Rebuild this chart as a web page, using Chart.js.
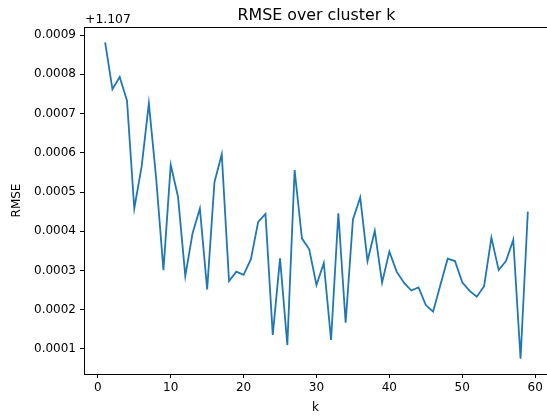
<!DOCTYPE html>
<html>
<head>
<meta charset="utf-8">
<script src="https://cdn.jsdelivr.net/npm/chart.js@4"></script>
<style>
  html, body { margin: 0; padding: 0; background: #fff; }
  #wrap { width: 547px; height: 417px; }
</style>
</head>
<body>
<div id="wrap"><canvas id="rmseChart" width="547" height="417"></canvas></div>
<script>
// values shown relative to the axis offset (+1.107)
const yOffsetLabel = '+1.107';
const kValues = [1, 2, 3, 4, 5, 6, 7, 8, 9, 10, 11, 12, 13, 14, 15, 16, 17, 18, 19, 20,
    21, 22, 23, 24, 25, 26, 27, 28, 29, 30, 31, 32, 33, 34, 35, 36, 37, 38, 39, 40,
    41, 42, 43, 44, 45, 46, 47, 48, 49, 50, 51, 52, 53, 54, 55, 56, 57, 58, 59];
const rmseDelta = [
    0.000881, 0.000762, 0.000793, 0.000733, 0.000458, 0.000564, 0.000726, 0.000535, 0.000301, 0.000569,
    0.000488, 0.000286, 0.000395, 0.000458, 0.000252, 0.000525, 0.000596, 0.000273, 0.000297, 0.000289,
    0.000329, 0.000424, 0.000444, 0.000136, 0.000331, 0.000110, 0.000556, 0.000382, 0.000354, 0.000263,
    0.000319, 0.000123, 0.000446, 0.000167, 0.000430, 0.000486, 0.000324, 0.000401, 0.000269, 0.000348,
    0.000297, 0.000269, 0.000249, 0.000257, 0.000212, 0.000195, 0.000263, 0.000330, 0.000324, 0.000270,
    0.000248, 0.000233, 0.000260, 0.000384, 0.000301, 0.000324, 0.000378, 0.000075, 0.000450
];
const xTicks = [0, 10, 20, 30, 40, 50, 60];
const yTicks = [0.0001, 0.0002, 0.0003, 0.0004, 0.0005, 0.0006, 0.0007, 0.0008, 0.0009];

const FONT = 'DejaVu Sans';
const xMin = -1.9, xMaxFull = 61.9;   // full axes range (right edge is cut off)

const ctx = document.getElementById('rmseChart');

const framePlugin = {
    id: 'frame',
    afterDraw(chart) {
        const c = chart.ctx;
        const a = chart.chartArea;
        const xs = chart.scales.x;
        c.save();
        // top spine
        c.strokeStyle = '#000';
        c.lineWidth = 1;
        c.beginPath();
        c.moveTo(a.left, a.top + 0.5);
        c.lineTo(chart.width, a.top + 0.5);
        c.stroke();
        // title
        c.fillStyle = '#000';
        c.font = '15.8px "' + FONT + '"';
        c.textAlign = 'center';
        c.textBaseline = 'alphabetic';
        c.fillText('RMSE over cluster k', xs.getPixelForValue((xMin + xMaxFull) / 2), 20);
        // offset text
        c.font = '12.4px "' + FONT + '"';
        c.textAlign = 'left';
        c.fillText(yOffsetLabel, a.left + 1, 22.5);
        c.restore();
    }
};

new Chart(ctx, {
    type: 'line',
    data: {
        datasets: [{
            label: 'RMSE',
            data: kValues.map((k, i) => ({x: k, y: rmseDelta[i]})),
            borderColor: '#1f77b4',
            borderWidth: 1.8,
            pointRadius: 0,
            tension: 0,
            fill: false
        }]
    },
    options: {
        responsive: false,
        animation: false,
        layout: { padding: { top: 27, right: 0, left: 0, bottom: 0 } },
        plugins: {
            legend: { display: false },
            tooltip: { enabled: false },
            title: { display: false }
        },
        scales: {
            x: {
                type: 'linear',
                min: xMin,
                max: xMin + (547 - 84) / 7.288,
                afterBuildTicks: s => { s.ticks = xTicks.map(v => ({value: v})); },
                afterFit: s => { s.height = 43; },
                grid: { display: true, drawOnChartArea: false, drawTicks: true, tickLength: 4, color: '#000' },
                border: { display: true, color: '#000', width: 1 },
                ticks: { color: '#000', font: { family: FONT, size: 12 }, padding: 3, maxRotation: 0 },
                title: { display: true, text: 'k', color: '#000', font: { family: FONT, size: 12 }, padding: { top: 0, bottom: 2 } }
            },
            y: {
                type: 'linear',
                min: 0.0000363,
                max: 0.0009204,
                afterBuildTicks: s => { s.ticks = yTicks.map(v => ({value: v})); },
                afterFit: s => { s.width = 84; },
                grid: { display: true, drawOnChartArea: false, drawTicks: true, tickLength: 4, color: '#000' },
                border: { display: true, color: '#000', width: 1 },
                ticks: { color: '#000', font: { family: FONT, size: 12 }, padding: 4, callback: v => v.toFixed(4) },
                title: { display: true, text: 'RMSE', color: '#000', font: { family: FONT, size: 12 }, padding: { top: 10, bottom: 4 } }
            }
        }
    },
    plugins: [framePlugin]
});
</script>
</body>
</html>
